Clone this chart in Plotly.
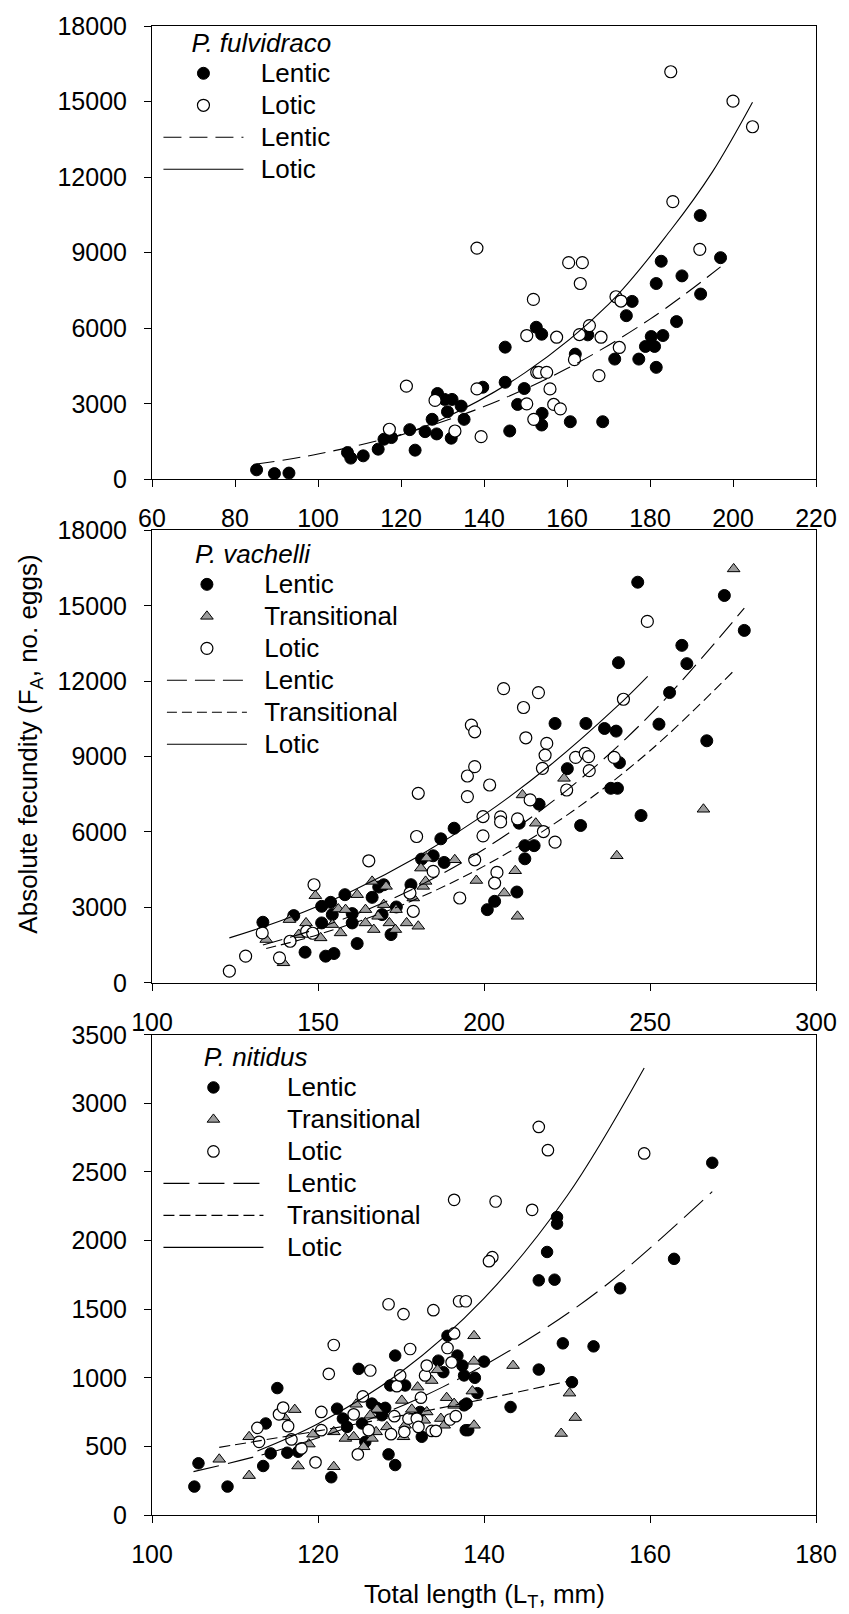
import plotly.graph_objects as go

FONT = "Liberation Sans, Arial, sans-serif"
GRAY = "#9c9c9c"

# ---------------- Panel 1: P. fulvidraco ----------------
p1_lentic_x = [85.2, 89.5, 93.0, 107.1, 107.9, 110.9, 114.5, 115.9, 117.7, 122.1, 123.4, 125.8, 127.5, 128.6,
               128.8, 131.2, 130.5, 132.3, 132.1, 134.5, 135.2, 139.7, 145.1, 145.1, 149.7, 148.1, 146.2, 152.6,
               153.9, 154.0, 153.9, 160.8, 168.6, 162.0, 165.0, 171.5, 174.3, 175.7, 177.3, 178.9, 180.3, 181.1,
               181.5, 183.1, 181.5, 182.7, 187.7, 186.4, 192.1, 192.2, 197.0]
p1_lentic_y = [380, 230, 250, 1066, 845, 935, 1200, 1595, 1660, 1975, 1160, 1895, 2385, 1805,
               3410, 2685, 3175, 3175, 1635, 2909, 2383, 3659, 5250, 3856, 3607, 2975, 1922, 6039,
               5763, 2620, 2159, 2289, 2289, 4973, 5738, 4776, 6500, 7066, 4776, 5277, 5672, 5277,
               4448, 5711, 7776, 8660, 8079, 6264, 10475, 7357, 8802]
p1_lotic_x = [121.3, 117.2, 128.2, 133.0, 138.3, 139.3, 138.3, 150.3, 151.9, 150.3, 152.0, 152.7, 153.2, 155.1,
              155.9, 156.8, 158.4, 157.5, 160.4, 163.7, 163.2, 161.8, 163.0, 165.4, 168.2, 167.7, 172.6, 171.8,
              173.0, 185.0, 185.5, 192.0, 200.0, 204.7]
p1_lotic_y = [3700, 1990, 3135, 1920, 3592, 1697, 9184, 5711, 7144, 3000, 2383, 4251, 4251, 4251,
              3592, 2975, 2802, 5644, 8605, 8605, 7776, 4752, 5750, 6106, 5644, 4120, 5237, 7251,
              7081, 16183, 11028, 9133, 15015, 14000]
p1_fit_lentic_x = [85.2, 100, 120, 140, 160, 180, 197]
p1_fit_lentic_y = [608, 1006, 1782, 2892, 4400, 6361, 8435]
p1_fit_lotic_x = [117, 130, 150, 170, 185, 195, 204.7]
p1_fit_lotic_y = [1600, 2400, 4250, 6950, 9900, 12200, 14975]

# ---------------- Panel 2: P. vachelli ----------------
p2_lentic_x = [133.4, 142.7, 146.1, 152.3, 154.8, 161.8, 151.1, 153.8, 158.1, 154.3, 151.1, 160.3, 160.3, 166.3,
               168.3, 169.8, 169.3, 172.0, 173.6, 178.0, 181.2, 184.7, 188.0, 187.0, 191.0,
               246.3, 272.4, 278.4, 259.6, 261.1, 240.5, 255.9, 252.7, 267.1, 221.4, 230.7, 236.3, 239.8, 240.8,
               225.1, 238.2, 240.2, 216.6, 210.6, 229.1, 247.3, 212.3, 215.1, 212.3, 209.9, 203.2, 201.0]
p2_lentic_y = [2408, 2672, 1217, 1058, 1164, 1561, 3042, 3201, 3505, 2712, 2381, 2381, 2752, 3399,
               3809, 3900, 2712, 1918, 3016, 3902, 4920, 5053, 4788, 5728, 6150,
               15938, 15409, 14020, 13425, 12698, 12737, 11547, 10290, 9629, 10317, 10317, 10118, 10013, 8757,
               8519, 7738, 7738, 7103, 6349, 6257, 6654, 5456, 5456, 4933, 3611, 3241, 2910]
p2_trans_x = [134.4, 139.6, 141.4, 144.2, 146.4, 149.2, 150.8, 154.3, 156.1, 156.8, 158.3, 161.8, 164.3, 164.3,
              166.3, 166.8, 168.1, 169.8, 170.5, 171.5, 173.3, 173.5, 176.7, 178.7, 180.2, 181.0, 181.7, 182.4,
              182.7, 191.2, 197.7, 275.2, 224.1, 211.6, 215.6, 266.1, 240.0, 209.4, 206.1, 210.1]
p2_trans_y = [1720, 794, 2513, 1918, 2381, 3465, 1786, 2315, 2936, 1984, 2910, 3505, 2910, 2381,
              4034, 2117, 2645, 3108, 3836, 2381, 2117, 2910, 2381, 3373, 2249, 4563, 3836, 4034,
              4960, 4894, 4070, 16467, 8134, 7473, 6349, 6904, 5053, 4457, 3571, 2645]
p2_lotic_x = [123.3, 128.2, 133.2, 138.4, 141.6, 146.6, 148.8, 148.4, 165.3, 177.7, 178.7, 180.2, 179.7, 184.7,
              192.7, 195.0, 195.0, 196.2, 197.2, 197.2, 197.2, 249.2, 205.9, 216.4, 211.9, 212.6, 218.9, 218.4,
              217.6, 242.0, 227.6, 230.5, 231.5, 239.2, 231.7, 201.7, 224.9, 213.9, 199.7, 205.0, 205.0, 210.1,
              199.7, 217.9, 221.4, 203.9, 203.2]
p2_lotic_y = [463, 1058, 1984, 992, 1653, 2051, 3900, 1970, 4854, 3571, 2844, 7539, 5820, 4431,
              3373, 7407, 8227, 10251, 9986, 8598, 4894, 14378, 11706, 11547, 10952, 9748, 9523, 9060,
              8531, 11282, 8968, 9126, 9000, 8968, 8439, 7870, 7671, 7275, 6614, 6600, 6400, 6521,
              5846, 6018, 5595, 4391, 3968]
p2_fit_lentic_x = [133.4, 150, 175, 200, 225, 250, 278.4]
p2_fit_lentic_y = [1501, 2166, 3502, 5314, 7668, 10655, 14907]
p2_fit_trans_x = [134.4, 150, 175, 200, 225, 250, 275.4]
p2_fit_trans_y = [1365, 1914, 3076, 4641, 6671, 9232, 12434]
p2_fit_lotic_x = [123.3, 140, 160, 180, 200, 220, 240, 249.3]
p2_fit_lotic_y = [1786, 2526, 3634, 5015, 6680, 8663, 10985, 12195]

# ---------------- Panel 3: P. nitidus ----------------
p3_lentic_x = [105.1, 105.6, 109.1, 113.4, 113.7, 114.3, 115.1, 116.3, 117.6, 121.6, 122.3, 123.0, 123.5, 124.9,
               125.3, 125.7, 126.5, 127.1, 128.1, 128.5, 129.3, 129.3, 128.7, 130.5, 127.7, 132.3, 132.5, 134.5,
               135.1, 135.6, 136.8, 137.4, 137.6, 137.8, 137.6,
               167.5, 148.8, 148.8, 147.6, 162.9, 146.6, 148.5, 156.4, 149.5, 153.2, 146.6, 150.6, 143.2, 140.0,
               138.9, 139.2, 137.9, 138.1]
p3_lentic_y = [207, 377, 207, 357, 667, 449, 925, 454, 461, 275, 775, 703, 642, 1065,
               667, 533, 812, 781, 781, 442, 364, 1162, 944, 944, 727, 751, 570, 1125,
               1041, 1306, 1162, 1089, 1017, 618, 799,
               2567, 2171, 2123, 1917, 1867, 1710, 1715, 1652, 1251, 1229, 1060, 968, 787, 1118,
               1000, 888, 812, 618]
p3_trans_x = [108.1, 111.7, 111.7, 115.9, 117.2, 117.6, 118.9, 119.4, 121.9, 121.9, 123.3, 124.3, 124.6, 125.5,
              126.5, 127.0, 127.1, 126.3, 128.3, 130.1, 130.3, 130.5, 131.3, 132.0, 132.8, 133.1, 133.7, 134.4,
              134.8, 135.2, 135.5, 136.4, 138.8, 138.8, 143.5, 138.6, 136.4, 138.8, 150.3, 151.0, 149.3]
p3_trans_y = [406, 287, 570, 715, 768, 357, 517, 589, 606, 352, 558, 570, 807, 497,
              558, 606, 770, 727, 642, 835, 570, 654, 770, 932, 690, 751, 980, 1058,
              703, 654, 855, 799, 1306, 1120, 1089, 903, 812, 654, 888, 710, 594]
p3_lotic_x = [112.9, 112.7, 115.3, 115.8, 116.4, 116.8, 118.0, 119.7, 120.4, 120.4, 121.3, 121.9, 124.3, 124.8,
              125.4, 126.1, 126.3, 128.5, 130.3, 133.9, 129.2, 128.8, 129.5, 129.9, 130.4, 130.9, 131.1, 131.9,
              132.1, 132.4, 132.9, 133.1, 133.7, 134.2, 135.6, 135.9, 136.1, 136.4, 136.6, 137.0, 137.8,
              146.6, 147.7, 159.3, 136.4, 141.4, 145.8, 141.0, 140.6]
p3_lotic_y = [533, 635, 734, 783, 647, 551, 485, 384, 618, 751, 1029, 1239, 734, 442,
              864, 618, 1053, 1536, 1464, 1493, 720, 589, 939, 1017, 606, 703, 1210, 703,
              642, 855, 1017, 1089, 613, 613, 1217, 696, 1113, 1323, 720, 1558, 1558,
              2828, 2659, 2635, 2297, 2285, 2224, 1879, 1850]
p3_fit_lentic_x = [105, 115, 125, 135, 145, 155, 167.5]
p3_fit_lentic_y = [316, 468, 670, 932, 1268, 1689, 2357]
p3_fit_trans_x = [108.1, 120, 130, 140, 150]
p3_fit_trans_y = [493, 613, 724, 844, 973]
p3_fit_lotic_x = [112.7, 120, 130, 140, 150, 159.3]
p3_fit_lotic_y = [467, 665, 1042, 1579, 2325, 3258]

fig = go.Figure()

NB = "\u00a0"
TXT = 26  # rendered size of legend texts


def lab(s, pad):
    return NB * pad + "<span style='font-size:%dpx'>%s</span>" % (TXT, s)


def markers(x, y, name, kind, ax, legend, size=12):
    if kind == "lentic":
        m = dict(symbol="circle", size=size, color="black", line=dict(color="black", width=1))
    elif kind == "trans":
        m = dict(symbol="triangle-up", size=size, color=GRAY, line=dict(color="black", width=1))
    else:
        m = dict(symbol="circle", size=size, color="white", line=dict(color="black", width=1.2))
    fig.add_trace(go.Scatter(x=x, y=y, mode="markers", marker=m, name=name,
                             xaxis="x" + ax, yaxis="y" + ax, legend=legend))


def fit(x, y, name, dash, ax, legend):
    fig.add_trace(go.Scatter(x=x, y=y, mode="lines", name=name,
                             line=dict(color="black", width=1.1, dash=dash, shape="spline"),
                             xaxis="x" + ax, yaxis="y" + ax, legend=legend))


# panel 1
markers(p1_lentic_x, p1_lentic_y, lab("Lentic", 2), "lentic", "", "legend")
markers(p1_lotic_x, p1_lotic_y, lab("Lotic", 2), "lotic", "", "legend")
fit(p1_fit_lentic_x, p1_fit_lentic_y, lab("Lentic", 2), "18px,8px", "", "legend")
fit(p1_fit_lotic_x, p1_fit_lotic_y, lab("Lotic", 2), "solid", "", "legend")

# panel 2
markers(p2_lentic_x, p2_lentic_y, lab("Lentic", 2), "lentic", "2", "legend2")
markers(p2_trans_x, p2_trans_y, lab("Transitional", 2), "trans", "2", "legend2", size=11)
markers(p2_lotic_x, p2_lotic_y, lab("Lotic", 2), "lotic", "2", "legend2")
fit(p2_fit_lentic_x, p2_fit_lentic_y, lab("Lentic", 2), "20px,8px", "2", "legend2")
fit(p2_fit_trans_x, p2_fit_trans_y, lab("Transitional", 2), "10px,5px", "2", "legend2")
fit(p2_fit_lotic_x, p2_fit_lotic_y, lab("Lotic", 2), "solid", "2", "legend2")

# panel 3
markers(p3_lentic_x, p3_lentic_y, lab("Lentic", 3), "lentic", "3", "legend3", size=11.5)
markers(p3_trans_x, p3_trans_y, lab("Transitional", 3), "trans", "3", "legend3", size=11)
markers(p3_lotic_x, p3_lotic_y, lab("Lotic", 3), "lotic", "3", "legend3", size=11.5)
fit(p3_fit_lentic_x, p3_fit_lentic_y, lab("Lentic", 3), "26px,9px", "3", "legend3")
fit(p3_fit_trans_x, p3_fit_trans_y, lab("Transitional", 3), "11px,5px", "3", "legend3")
fit(p3_fit_lotic_x, p3_fit_lotic_y, lab("Lotic", 3), "solid", "3", "legend3")

H = 1614
W = 849
ML, MR, MT, MB = 151.5, 28, 17.7, 98.7
PH = H - MT - MB
PW = W - ML - MR


def py(p):
    return (H - MB - p) / PH


def px(p):
    return (p - ML) / PW


axis_common = dict(showline=True, linecolor="black", linewidth=1, mirror=True,
                   ticks="outside", ticklen=7, tickwidth=1, tickcolor="black",
                   showgrid=False, zeroline=False, tickformat="d",
                   tickfont=dict(size=25, color="black", family=FONT))

fig.update_layout(
    width=W, height=H,
    margin=dict(l=ML, r=MR, t=MT, b=MB),
    paper_bgcolor="white", plot_bgcolor="white",
    font=dict(family=FONT, color="black", size=25),
    xaxis=dict(domain=[0, 1], range=[60, 220], dtick=20, anchor="y", ticklabelstandoff=10, **axis_common),
    yaxis=dict(domain=[py(473.7), 1], range=[0, 18000], dtick=3000, anchor="x", ticklabelstandoff=12, **axis_common),
    xaxis2=dict(domain=[0, 1], range=[100, 300], dtick=50, anchor="y2", ticklabelstandoff=10, **axis_common),
    yaxis2=dict(domain=[py(980), py(525)], range=[0, 18000], dtick=3000, anchor="x2", ticklabelstandoff=12, **axis_common),
    xaxis3=dict(domain=[0, 1], range=[100, 180], dtick=20, anchor="y3", ticklabelstandoff=10, **axis_common),
    yaxis3=dict(domain=[0, py(1032.3)], range=[0, 3500], dtick=500, anchor="x3", ticklabelstandoff=12, **axis_common),
    showlegend=True,
)

LEGF = 22.3  # legend font size that sets row spacing (~32 px)
leg_common = dict(xanchor="left", yanchor="top", bgcolor="rgba(0,0,0,0)", borderwidth=0,
                  font=dict(size=LEGF, family=FONT, color="black"), tracegroupgap=0, traceorder="normal")


def ltitle(s, pad):
    return dict(text=NB * pad + "<span style='font-size:%dpx'><i>%s</i></span>" % (TXT, s),
                font=dict(size=LEGF, family=FONT, color="black"))


fig.update_layout(
    legend=dict(x=px(158), y=py(15), itemwidth=80, title=ltitle("P. fulvidraco", 5), **leg_common),
    legend2=dict(x=px(161.5), y=py(529), itemwidth=80, title=ltitle("P. vachelli", 5), **leg_common),
    legend3=dict(x=px(158), y=py(1035), itemwidth=100, title=ltitle("P. nitidus", 7), **leg_common),
)

fig.add_annotation(text="Absolute fecundity (F<sub>A</sub>, no. eggs)", xref="paper", yref="paper",
                   x=px(28), y=py(740), textangle=-90, showarrow=False,
                   font=dict(size=26, family=FONT, color="black"), xanchor="center", yanchor="middle")
fig.add_annotation(text="Total length (L<sub>T</sub>, mm)", xref="paper", yref="paper",
                   x=px(486.5), y=py(1596.7), showarrow=False,
                   font=dict(size=26, family=FONT, color="black"), xanchor="center", yanchor="middle")

fig.write_html("out.html", config={"displayModeBar": False},
               post_script="document.body.style.margin='0px';document.body.style.overflow='hidden';")
